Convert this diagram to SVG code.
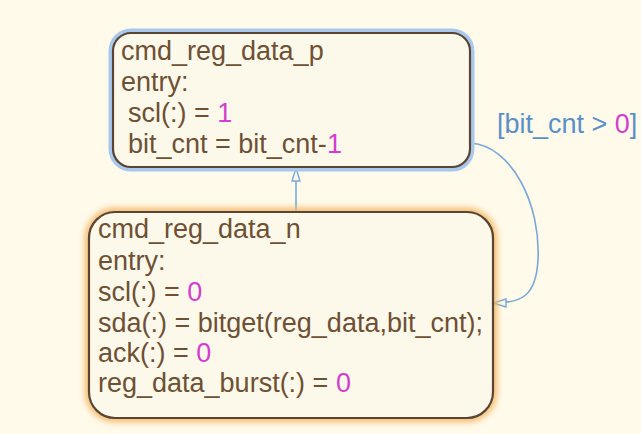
<svg xmlns="http://www.w3.org/2000/svg" width="641" height="434" viewBox="0 0 641 434">
<style>
  .t { font-family: "Liberation Sans", Arial, sans-serif; font-size: 27px; fill: #6e5034; }
  .n { fill: #d23fcf; }
  .lbl { font-family: "Liberation Sans", Arial, sans-serif; font-size: 27px; fill: #5b8fc8; }
  .box { fill: #fdf9ea; stroke: #5a4533; stroke-width: 2.2; }
  .conn { fill: none; stroke: #7aa7d6; stroke-width: 1.6; }
</style>
<defs>
  <filter id="blur" x="-10%" y="-10%" width="120%" height="120%">
    <feGaussianBlur stdDeviation="3"/>
  </filter>
  <marker id="arr" markerWidth="16" markerHeight="12" refX="14" refY="5" orient="auto" markerUnits="userSpaceOnUse">
    <path d="M1,1 L14,5 L1,9 Z" fill="#fdf9ea" stroke="#7aa7d6" stroke-width="1.4"/>
  </marker>
</defs>
<rect x="0" y="0" width="641" height="434" fill="#fffaea"/>

<g id="connectors">
  <path class="conn" d="M296,211 L296,168" marker-end="url(#arr)"/>
  <path class="conn" d="M471,143 C512,146 541,205 538,260 C536,296 522,303 493,303" marker-end="url(#arr)"/>
  <text class="lbl" x="497" y="133">[bit_cnt &gt; <tspan class="n">0</tspan>]</text>
</g>

<g id="cmd_reg_data_p">
  <rect x="113" y="33" width="357" height="134" rx="18" fill="none" stroke="#a8c8ee" stroke-width="9"/>
  <rect class="box" x="113" y="33" width="357" height="134" rx="18"/>
  <text class="t" x="121" y="60">cmd_reg_data_p</text>
  <text class="t" x="121" y="91">entry:</text>
  <text class="t" x="128" y="122">scl(:) = <tspan class="n">1</tspan></text>
  <text class="t" x="128" y="153">bit_cnt = bit_cnt-<tspan class="n">1</tspan></text>
</g>

<g id="cmd_reg_data_n">
  <rect x="89" y="212" width="404" height="206" rx="26" fill="none" stroke="#f3b868" stroke-width="8" filter="url(#blur)"/>
  <rect class="box" x="89" y="212" width="404" height="206" rx="26"/>
  <text class="t" x="98" y="238">cmd_reg_data_n</text>
  <text class="t" x="98" y="270">entry:</text>
  <text class="t" x="98" y="301">scl(:) = <tspan class="n">0</tspan></text>
  <text class="t" x="98" y="332">sda(:) = bitget(reg_data,bit_cnt);</text>
  <text class="t" x="98" y="362">ack(:) = <tspan class="n">0</tspan></text>
  <text class="t" x="98" y="392">reg_data_burst(:) = <tspan class="n">0</tspan></text>
</g>
</svg>
